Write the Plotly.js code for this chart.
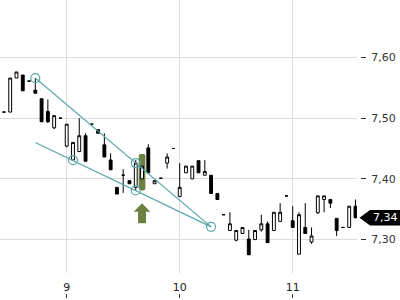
<!DOCTYPE html>
<html>
<head>
<meta charset="utf-8">
<script src="https://cdn.plot.ly/plotly-3.0.1.min.js"></script>
<style>html,body{margin:0;padding:0;background:#fff;}#chart{width:400px;height:300px;}</style>
</head>
<body>
<div id="chart"></div>
<script>
// ---- data (3.33-minute candles) ----
const times = ['08:26:40','08:30:00','08:33:20','08:36:40','08:40:00','08:43:20','08:46:40','08:50:00','08:53:20','08:56:40',
  '09:00:00','09:03:20','09:06:40','09:10:00','09:13:20','09:16:40','09:20:00','09:23:20','09:26:40','09:30:00',
  '09:33:20','09:36:40','09:40:00','09:43:20','09:46:40','09:50:00','09:53:20','09:56:40','10:00:00','10:03:20',
  '10:06:40','10:10:00','10:13:20','10:16:40','10:20:00','10:23:20','10:26:40','10:30:00','10:33:20','10:36:40',
  '10:40:00','10:43:20','10:46:40','10:50:00','10:53:20','10:56:40','11:00:00','11:03:20','11:06:40','11:10:00',
  '11:13:20','11:16:40','11:20:00','11:23:20','11:26:40','11:30:00','11:33:20'];
const opens  = [7.510,7.510,7.566,7.571,7.561,7.546,7.532,7.511,7.484,7.500,
  7.454,7.431,7.445,7.471,7.490,7.481,7.456,7.431,7.386,7.406,
  7.397,7.386,7.400,7.451,7.392,7.401,7.426,7.450,7.371,7.410,
  7.400,7.430,7.406,7.406,7.376,7.341,7.315,7.299,7.310,7.301,
  7.300,7.316,7.326,7.315,7.330,7.372,7.331,7.276,7.320,7.296,
  7.344,7.366,7.366,7.335,7.320,7.320,7.355];
const highs  = [7.510,7.566,7.576,7.571,7.561,7.566,7.532,7.531,7.505,7.500,
  7.490,7.460,7.500,7.475,7.490,7.481,7.475,7.442,7.386,7.416,
  7.397,7.431,7.421,7.457,7.397,7.401,7.442,7.450,7.426,7.421,
  7.421,7.430,7.431,7.406,7.376,7.341,7.345,7.315,7.320,7.316,
  7.315,7.341,7.330,7.345,7.360,7.372,7.355,7.345,7.360,7.320,
  7.372,7.372,7.366,7.335,7.320,7.355,7.366];
const lows   = [7.510,7.510,7.566,7.545,7.561,7.541,7.494,7.492,7.482,7.500,
  7.452,7.431,7.444,7.429,7.490,7.475,7.436,7.415,7.375,7.377,
  7.392,7.381,7.400,7.410,7.392,7.401,7.417,7.450,7.371,7.410,
  7.400,7.410,7.406,7.376,7.366,7.341,7.315,7.297,7.310,7.275,
  7.300,7.313,7.295,7.315,7.330,7.372,7.320,7.276,7.310,7.293,
  7.342,7.345,7.352,7.306,7.320,7.320,7.335];
const closes = [7.510,7.566,7.576,7.545,7.561,7.541,7.494,7.494,7.504,7.500,
  7.490,7.460,7.471,7.429,7.490,7.475,7.436,7.415,7.375,7.406,
  7.392,7.426,7.421,7.410,7.397,7.401,7.436,7.450,7.386,7.421,
  7.421,7.410,7.412,7.376,7.366,7.341,7.326,7.315,7.320,7.275,
  7.315,7.326,7.295,7.345,7.345,7.372,7.320,7.341,7.310,7.306,
  7.372,7.372,7.360,7.315,7.320,7.355,7.336];

// trend lines and pivot points
const trendTimes   = ['08:43:20','10:16:40'];
const upperTrend   = [7.566, 7.321];
const lowerTrend   = [7.460, 7.321];
const pivotTimes   = ['08:43:20','09:03:20','09:36:40','09:36:40','10:16:40'];
const pivotPrices  = [7.566, 7.431, 7.426, 7.381, 7.321];

// buy signal
const signalTime = '09:40:00';
const signalBar = [7.381, 7.441];      // bar low/high
const signalArrow = [7.327, 7.360];    // arrow bottom/top

const xTickVals = [9, 10, 11];
const xTickText = ['9', '10', '11'];
const yTickVals = [7.30, 7.40, 7.50, 7.60];

// ---- helpers ----
function hrs(t){ const p = t.split(':').map(Number); return p[0] + p[1]/60 + p[2]/3600; }
const X = times.map(hrs);
const xRange = [8.4097, 11.569];
const yRange = [7.245, 7.6945];
const teal = '#5aa6ab';
const olive = '#6c813f';
const font = 'DejaVu Sans, sans-serif';

const traces = [
  {
    type: 'candlestick', x: X, open: opens, high: highs, low: lows, close: closes,
    increasing: {line: {color: '#000', width: 1}, fillcolor: '#ffffff'},
    decreasing: {line: {color: '#000', width: 1}, fillcolor: '#000000'},
    whiskerwidth: 0, hoverinfo: 'skip', showlegend: false
  },
  {type: 'scatter', mode: 'lines', x: trendTimes.map(hrs), y: upperTrend,
   line: {color: teal, width: 1.2}, hoverinfo: 'skip', showlegend: false},
  {type: 'scatter', mode: 'lines', x: trendTimes.map(hrs), y: lowerTrend,
   line: {color: teal, width: 1.2}, hoverinfo: 'skip', showlegend: false},
  {type: 'scatter', mode: 'markers', x: pivotTimes.map(hrs), y: pivotPrices,
   marker: {symbol: 'circle-open', size: 9, color: teal, line: {width: 1.2, color: teal}},
   hoverinfo: 'skip', showlegend: false},
  {type: 'scatter', x: [null], y: [null], xaxis: 'x2', yaxis: 'y', showlegend: false, hoverinfo: 'skip'}
];

// signal shapes
const cx = hrs(signalTime);
const bw = 0.0296, rx = 0.018, ry = 0.0035;
const b0 = signalBar[0], b1 = signalBar[1];
const barPath = `M ${cx-bw+rx},${b0} L ${cx+bw-rx},${b0} Q ${cx+bw},${b0} ${cx+bw},${b0+ry} L ${cx+bw},${b1-ry} Q ${cx+bw},${b1} ${cx+bw-rx},${b1} L ${cx-bw+rx},${b1} Q ${cx-bw},${b1} ${cx-bw},${b1-ry} L ${cx-bw},${b0+ry} Q ${cx-bw},${b0} ${cx-bw+rx},${b0} Z`;
const a0 = signalArrow[0], a1 = signalArrow[1], ah = a1 - 0.014;
const sw = 0.035, hw = 0.074;
const arrowPath = `M ${cx-sw},${a0} L ${cx-sw},${ah} L ${cx-hw},${ah} L ${cx},${a1} L ${cx+hw},${ah} L ${cx+sw},${ah} L ${cx+sw},${a0} Z`;

// last price label
const last = closes[closes.length-1];
const lh = 0.0128;
const labelPath = `M 0.9986,${last} L 1.0278,${last+lh} L 1.12,${last+lh} L 1.12,${last-lh} L 1.0278,${last-lh} Z`;

const layout = {
  width: 400, height: 300,
  margin: {l: 0, r: 40, t: 0, b: 7, pad: 0},
  paper_bgcolor: '#fff', plot_bgcolor: '#fff',
  separators: ',.',
  font: {family: font, size: 11, color: '#222'},
  showlegend: false,
  boxgap: 0.35,
  xaxis: {
    type: 'linear', domain: [0, 357/360], range: xRange,
    tickvals: xTickVals, ticktext: xTickText, ticks: '',
    showgrid: true, gridcolor: '#dcdcdc', gridwidth: 1,
    zeroline: false, showline: false, fixedrange: true,
    rangeslider: {visible: false}, ticklabelstandoff: 6,
    tickfont: {family: font, size: 11, color: '#222'}
  },
  xaxis2: {
    type: 'linear', overlaying: 'x', anchor: 'free', position: 0, side: 'bottom',
    domain: [0, 357/360], range: xRange,
    tickvals: xTickVals, ticks: 'outside', ticklen: 4, tickwidth: 1, tickcolor: '#333',
    showticklabels: false, showgrid: false, zeroline: false, showline: false
  },
  yaxis: {
    domain: [20/293, 1], range: yRange, side: 'right', anchor: 'free', position: 1,
    tickvals: yTickVals, tickformat: '.2f', ticks: 'outside', ticklen: 5, tickwidth: 1, tickcolor: '#333',
    showgrid: true, gridcolor: '#dcdcdc', gridwidth: 1,
    zeroline: false, showline: false, fixedrange: true, ticklabelstandoff: 3,
    tickfont: {family: font, size: 11, color: '#333'}
  },
  shapes: [
    {type: 'path', xref: 'x', yref: 'y', path: barPath, fillcolor: olive, line: {width: 0}, layer: 'between'},
    {type: 'path', xref: 'x', yref: 'y', path: arrowPath, fillcolor: olive, line: {width: 0}, layer: 'above'},
    {type: 'path', xref: 'paper', yref: 'y', path: labelPath, fillcolor: '#000', line: {width: 0}, layer: 'above'}
  ],
  annotations: [
    {xref: 'paper', yref: 'y', x: 1.0306, y: last, xanchor: 'left', yanchor: 'middle',
     text: (Math.round(last * 100) / 100).toFixed(2).replace('.', ','), showarrow: false,
     font: {family: font, size: 11, color: '#fff'}}
  ]
};

Plotly.newPlot('chart', traces, layout, {staticPlot: true, displayModeBar: false});
</script>
</body>
</html>
